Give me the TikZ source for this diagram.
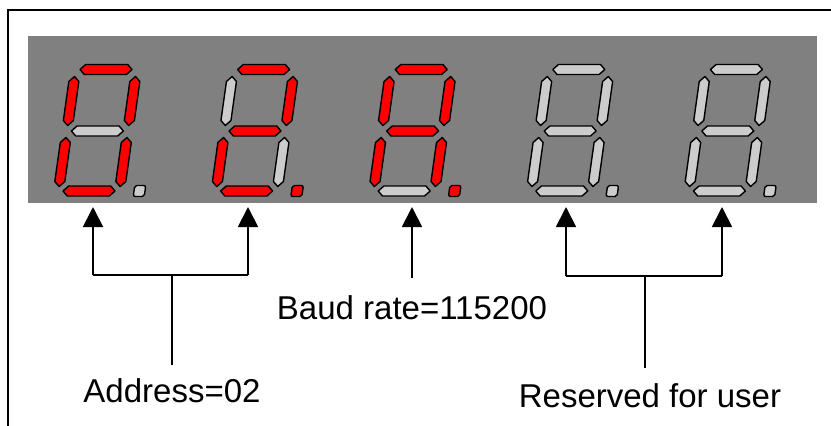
\documentclass[tikz,border=0pt]{standalone}
\usepackage{fontspec}
\setmainfont{Liberation Sans}
\usetikzlibrary{arrows.meta}
\usetikzlibrary{positioning}
\definecolor{segon}{RGB}{255,0,0}
\definecolor{segoff}{RGB}{204,204,204}
\definecolor{panel}{RGB}{128,128,128}
\tikzset{segment/.style={draw=black, line width=1.4pt, line join=round}}

% horizontal and vertical bar of the display
\newcommand{\hseg}[3]{\draw[segment, fill=#3] (#1,#2) +(-26,0) -- +(-21,-5) -- +(21,-5) -- +(26,0) -- +(21,5) -- +(-21,5) -- cycle;}
\newcommand{\vseg}[3]{\draw[segment, fill=#3] (#1,#2) +(0,-24.5) -- +(5,-19.5) -- +(5,19.5) -- +(0,24.5) -- +(-5,19.5) -- +(-5,-19.5) -- cycle;}

% one digit: x, then a b c d e f g dp
\newcommand{\segdigit}[9]{%
  \begin{scope}[shift={(#1,131)}, xslant=0.14]
    \hseg{0}{-61.5}{#2}
    \vseg{30.5}{-30}{#3}
    \vseg{30.5}{31}{#4}
    \hseg{0}{60}{#5}
    \vseg{-30.5}{31}{#6}
    \vseg{-30.5}{-30}{#7}
    \hseg{0}{0}{#8}
    \draw[segment, fill=#9, rounded corners=2pt] (45,54.5) rectangle (56,65.5);
  \end{scope}}

\begin{document}
\begin{tikzpicture}[x=1pt, y=-1pt, >={Triangle[width=20pt,length=20pt]},
    pointer/.style={->, line width=1.8pt},
    bracket/.style={line width=1.8pt},
    stem/.style={line width=1.2pt},
    lbl/.style={inner sep=0pt, font=\fontsize{33}{36}\selectfont}]
  \useasboundingbox (0,0) rectangle (831,426);
  \draw[line width=2pt] (8.3,426) |- (831,9.7);
  \fill[panel] (28,36) rectangle (817,203);

  \segdigit{97.4}{segon}{segon}{segon}{segon}{segon}{segon}{segoff}{segoff}
  \segdigit{255}{segon}{segon}{segoff}{segon}{segon}{segoff}{segon}{segon}
  \segdigit{412.6}{segon}{segon}{segon}{segoff}{segon}{segon}{segon}{segon}
  \segdigit{570.2}{segoff}{segoff}{segoff}{segoff}{segoff}{segoff}{segoff}{segoff}
  \segdigit{727.8}{segoff}{segoff}{segoff}{segoff}{segoff}{segoff}{segoff}{segoff}

  % tips under the digits
  \coordinate (t1) at (93,207);
  \coordinate (t2) at (248,207);
  \coordinate (t3) at (412,207);
  \coordinate (t4) at (566,207);
  \coordinate (t5) at (722,207);

  \coordinate (b1) at (93,275);
  \coordinate (b2) at (248,275);
  \coordinate (b3) at (412,278);
  \coordinate (b4) at (566,276);
  \coordinate (b5) at (722,276);

  \coordinate (m1) at (172,275);
  \coordinate (s1) at (172,365);
  \coordinate (m2) at (645,276);
  \coordinate (s2) at (645,368);

  \node[lbl, below=13pt of s1] (addr) {Address=02};
  \node[lbl, below=17pt of b3] (baud) {Baud rate=115200};
  \node[lbl, below=15pt of s2, xshift=5pt] (user) {Reserved for user};

  \draw[pointer] (b1) -- (t1);
  \draw[pointer] (b2) -- (t2);
  \draw[pointer] (b3) -- (t3);
  \draw[pointer] (b4) -- (t4);
  \draw[pointer] (b5) -- (t5);

  \draw[bracket] (b1) -- (b2);
  \draw[bracket] (b4) -- (b5);
  \draw[stem] (m1) -- (s1);
  \draw[stem] (m2) -- (s2);
\end{tikzpicture}
\end{document}
